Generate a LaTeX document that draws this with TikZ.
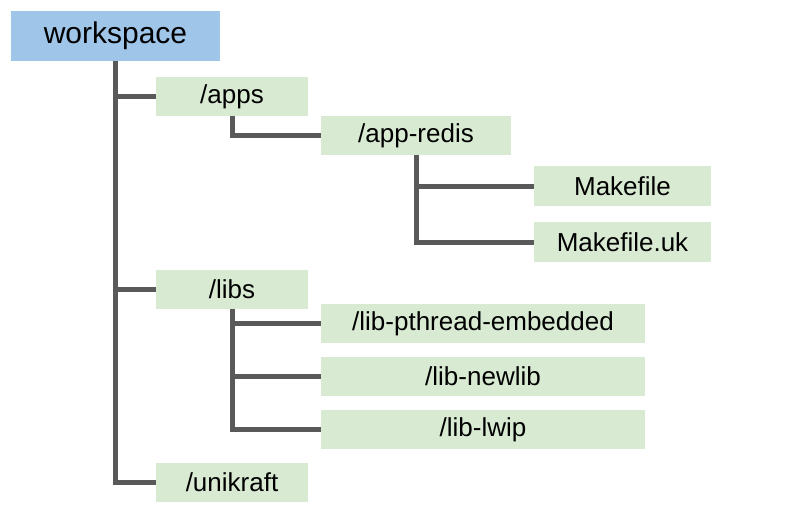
\documentclass[tikz,border=0pt]{standalone}
\usepackage{fontspec}
\setmainfont{Liberation Sans}
\usepackage{tikz}

\definecolor{rootblue}{HTML}{9FC5E8}
\definecolor{dirgreen}{HTML}{D9EAD3}
\definecolor{linegray}{HTML}{595959}

\tikzset{
  dirbox/.style={fill=dirgreen, minimum height=39pt, inner sep=0pt,
    font=\fontsize{26}{30}\selectfont},
  rootbox/.style={fill=rootblue, minimum width=209pt, minimum height=50pt,
    inner sep=0pt, font=\fontsize{30}{34}\selectfont},
  treeline/.style={draw=linegray, line width=5pt}
}

\begin{document}
\begin{tikzpicture}[x=1pt,y=-1pt]
			\useasboundingbox (0,0) rectangle (786,524);

			% Define box widths
			\def\wSmall{152}
			\def\wMid{177}
			\def\wBig{324}

			% Draw the root folder
			\node[rootbox] (ws) at (115.5,36) {workspace};

			% Draw the first level folders
			\node[dirbox, minimum width=\wSmall] (apps) at (232,96.5) {/apps};
			\node[dirbox, minimum width=\wSmall] (libs) at (232,289.5) {/libs};
			\node[dirbox, minimum width=\wSmall] (unikraft) at (232,482.5) {/unikraft};

			% Draw the app folder and its files
			\node[dirbox, minimum width=190] (redis) at (416,135.5) {/app-redis};
			\node[dirbox, minimum width=\wMid, minimum height=40] (mk) at (622.5,186) {Makefile};
			\node[dirbox, minimum width=\wMid, minimum height=40] (mkuk) at (622.5,242) {Makefile.uk};

			% Draw the library folders
			\node[dirbox, minimum width=\wBig] (pthread) at (483,323.5) {/lib-pthread-embedded};
			\node[dirbox, minimum width=\wBig] (newlib) at (483,376.5) {/lib-newlib};
			\node[dirbox, minimum width=\wBig] (lwip) at (483,429.5) {/lib-lwip};

			% Draw the tree lines
			\draw[treeline] (ws.south) |- (apps.west);
			\draw[treeline] (ws.south) |- (libs.west);
			\draw[treeline] (ws.south) |- (unikraft.west);
			\draw[treeline] (apps.south) |- (redis.west);
			\draw[treeline] (redis.south) |- (mk.west);
			\draw[treeline] (redis.south) |- (mkuk.west);
			\draw[treeline] (libs.south) |- (pthread.west);
			\draw[treeline] (libs.south) |- (newlib.west);
			\draw[treeline] (libs.south) |- (lwip.west);
		\end{tikzpicture}
\end{document}
